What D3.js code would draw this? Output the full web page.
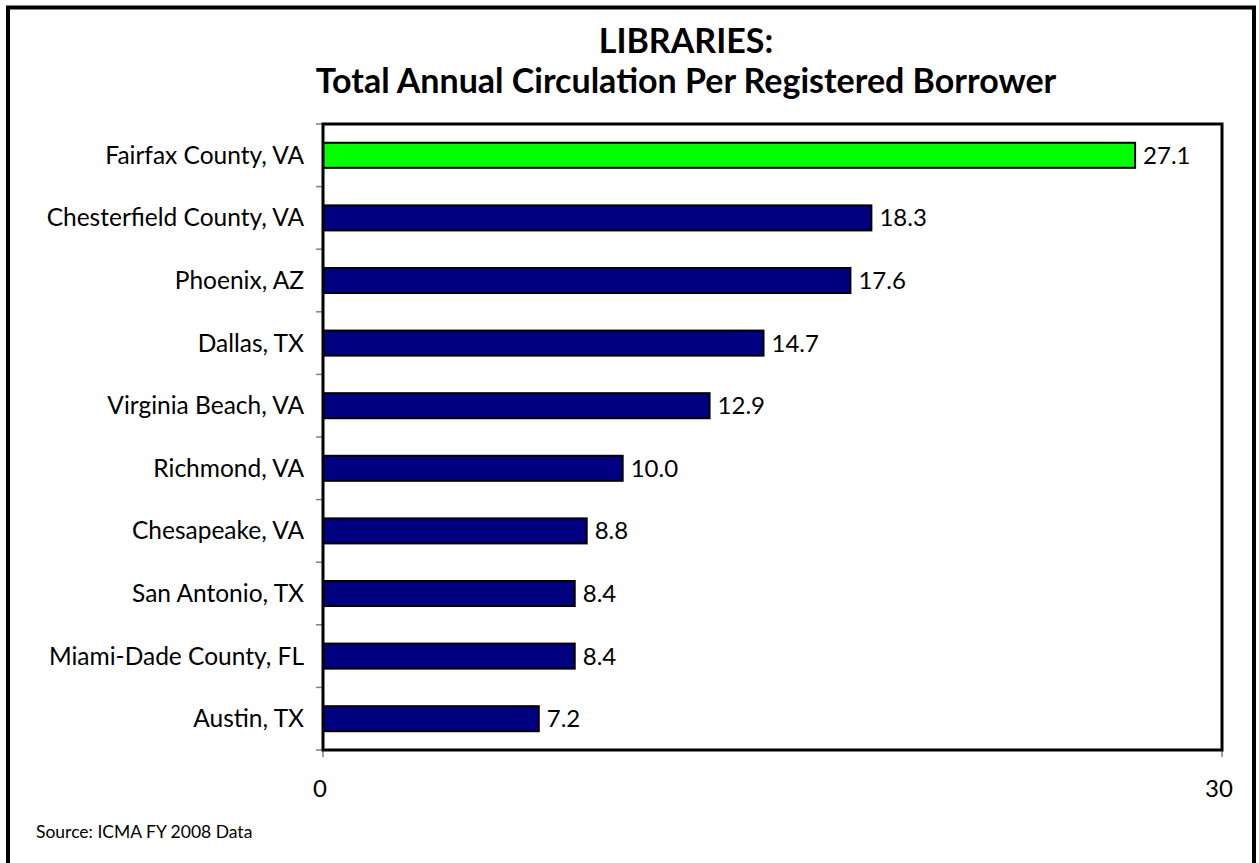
<!DOCTYPE html>
<html><head><meta charset="utf-8">
<script src="https://cdn.jsdelivr.net/npm/d3@7"></script>
<style>body{margin:0;background:#fff;} svg{display:block;} text{font-family:Lato, "Open Sans", sans-serif;}</style>
</head><body>
<svg id="c" width="1259" height="863"></svg>
<script>
const categories = ["Fairfax County, VA","Chesterfield County, VA","Phoenix, AZ","Dallas, TX","Virginia Beach, VA","Richmond, VA","Chesapeake, VA","San Antonio, TX","Miami-Dade County, FL","Austin, TX"];
const values = [27.1,18.3,17.6,14.7,12.9,10.0,8.8,8.4,8.4,7.2];
const highlight = ["Fairfax County, VA"];
const xTicks = [0,30];
const titleLines = ["LIBRARIES:","Total Annual Circulation Per Registered Borrower"];
const source = "Source: ICMA FY 2008 Data";

const svg = d3.select("#c");
const L=323, R=1222, T=124, B=750;
const x = d3.scaleLinear().domain([0,30]).range([L,R]);
const y = d3.scaleBand().domain(categories).range([T,B]).paddingInner(0.6).paddingOuter(0.3);
const yb = d3.scaleBand().domain(categories).range([T,B]);

// outer border
svg.append("rect").attr("x",8).attr("y",7.5).attr("width",1246).attr("height",900)
  .attr("fill","none").attr("stroke","#000").attr("stroke-width",4);

// title
svg.append("g").selectAll("text").data(titleLines).join("text")
  .attr("x",686).attr("y",(d,i)=>i===0?53:93).attr("text-anchor","middle")
  .attr("font-weight","bold").attr("font-size",34).attr("fill","#000").text(d=>d);

// y ticks at band boundaries
const bounds = categories.map(c=>yb(c)).concat([B]);
svg.append("g").selectAll("line").data(bounds).join("line")
  .attr("x1",316).attr("x2",L).attr("y1",d=>d).attr("y2",d=>d)
  .attr("stroke","#808080").attr("stroke-width",1.5);
// x ticks
svg.append("g").selectAll("line").data(xTicks).join("line")
  .attr("x1",d=>x(d)).attr("x2",d=>x(d)).attr("y1",B).attr("y2",B+7)
  .attr("stroke","#808080").attr("stroke-width",1.5);

// bars
svg.append("g").selectAll("rect").data(categories).join("rect")
  .attr("x",x(0)).attr("y",d=>y(d)).attr("width",(d,i)=>x(values[i])-x(0)).attr("height",y.bandwidth())
  .attr("fill",d=>highlight.includes(d)?"#00FF00":"#000080").attr("stroke","#000").attr("stroke-width",2);

// plot frame
svg.append("rect").attr("x",L).attr("y",T).attr("width",R-L).attr("height",B-T)
  .attr("fill","none").attr("stroke","#000").attr("stroke-width",3);

// value labels
svg.append("g").selectAll("text").data(categories).join("text")
  .attr("x",(d,i)=>x(values[i])+8).attr("y",d=>y(d)+y.bandwidth()/2).attr("dy","0.35em")
  .attr("font-size",24).attr("fill","#000").text((d,i)=>values[i].toFixed(1));

// category labels
svg.append("g").selectAll("text").data(categories).join("text")
  .attr("x",304).attr("y",d=>y(d)+y.bandwidth()/2).attr("dy","0.35em").attr("text-anchor","end")
  .attr("font-size",24.5).attr("fill","#000").text(d=>d);

// x tick labels
svg.append("g").selectAll("text").data(xTicks).join("text")
  .attr("x",d=>x(d)-3).attr("y",797).attr("text-anchor","middle")
  .attr("font-size",24).attr("fill","#000").text(d=>d);

svg.append("text").attr("x",36).attr("y",838).attr("font-size",17.5).attr("fill","#000").text(source);
</script>
</body></html>
